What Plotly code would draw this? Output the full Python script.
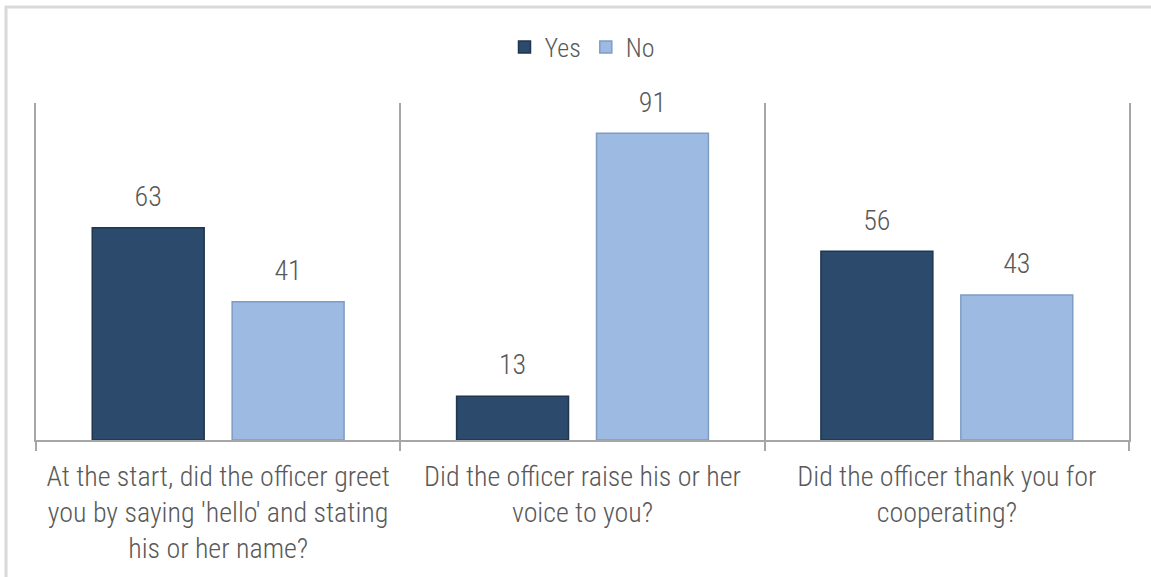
import plotly.graph_objects as go

categories = [
    "At the start, did the officer greet<br>you by saying 'hello' and stating<br>his or her name?",
    "Did the officer raise his or her<br>voice to you?",
    "Did the officer thank you for<br>cooperating?",
]
yes_values = [63, 13, 56]
no_values = [41, 91, 43]
series_names = ["Yes", "No"]

FONT = "Roboto Condensed, Liberation Sans Narrow, DejaVu Sans Condensed, sans-serif"
TXT = "#595959"
FS = 28

fig = go.Figure()
fig.add_trace(go.Bar(
    name=series_names[0], x=categories, y=yes_values,
    marker=dict(color="#2c4a6b", line=dict(color="#1f3550", width=1.5)),
    hoverinfo="x+y",
))
fig.add_trace(go.Bar(
    name=series_names[1], x=categories, y=no_values,
    marker=dict(color="#9dbbe2", line=dict(color="#7f9cc2", width=1.5)),
    hoverinfo="x+y",
))
# data labels, aligned with bars via scattermode="group"
for vals in (yes_values, no_values):
    fig.add_trace(go.Scatter(
        x=categories, y=vals, mode="markers+text", text=vals,
        textposition="top center",
        textfont=dict(family=FONT, size=FS, color=TXT, weight=300),
        marker=dict(size=22, opacity=0), showlegend=False, hoverinfo="skip",
        cliponaxis=False,
    ))

W, H = 1151, 577
ml, mr, mt, mb = 36, 22, 103, 137

fig.update_layout(
    width=W, height=H,
    margin=dict(l=ml, r=mr, t=mt, b=mb, autoexpand=False),
    paper_bgcolor="white", plot_bgcolor="white",
    barmode="group", bargap=0.232, bargroupgap=0.2,
    scattermode="group", scattergap=0.232,
    font=dict(family=FONT, size=FS, color=TXT, weight=300),
    legend=dict(orientation="h", x=0.5, xanchor="center", y=1.166, yanchor="middle",
                font=dict(family=FONT, size=26, color=TXT, weight=300),
                traceorder="normal", itemwidth=30),
    showlegend=True,
)
fig.update_xaxes(
    type="category", tickson="boundaries", showgrid=True, gridcolor="#a6a6a6", gridwidth=2,
    showline=True, linecolor="#a6a6a6", linewidth=2,
    ticks="outside", ticklen=9, tickwidth=2, tickcolor="#a6a6a6",
    tickfont=dict(family=FONT, size=FS, color=TXT, weight=300),
    ticklabelstandoff=10, automargin=False,
    range=[-0.5, 2.5],
)
fig.update_yaxes(range=[0, 100], showgrid=False, zeroline=False, showticklabels=False,
                 ticks="", showline=True, mirror=True, linecolor="#a6a6a6", linewidth=2,
                 automargin=False)

# outer chart frame
pw = W - ml - mr
ph = H - mt - mb
fig.add_shape(type="rect", xref="paper", yref="paper",
              x0=(6 - ml) / pw, x1=(W + 10 - ml) / pw,
              y0=-(H + 10 - mt - ph) / ph, y1=1 + (mt - 7) / ph,
              line=dict(color="#d9d9d9", width=3), fillcolor="rgba(0,0,0,0)", layer="below")

fig.write_html("out.html", config={"displayModeBar": False},
               post_script="document.body.style.margin='0';")
